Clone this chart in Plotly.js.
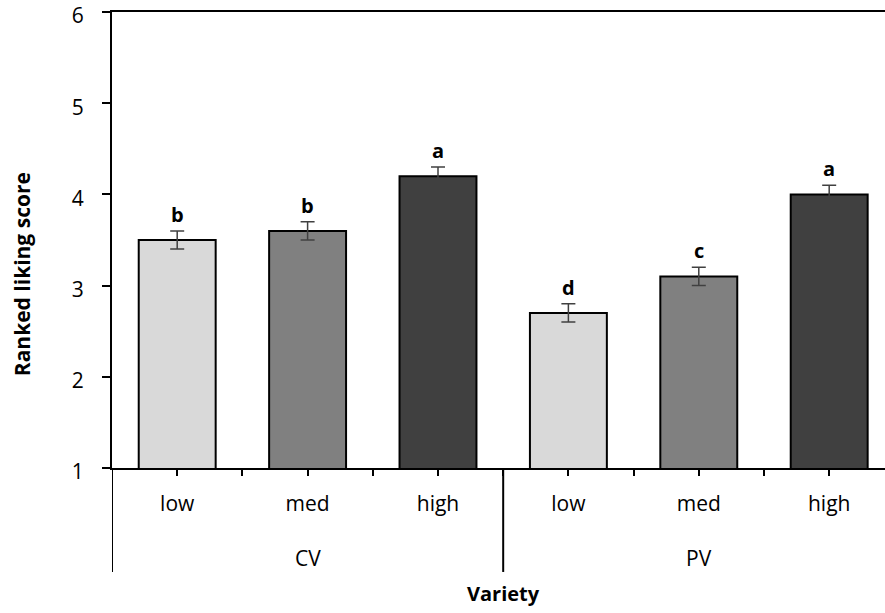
<!DOCTYPE html>
<html><head><meta charset="utf-8">
<script src="https://cdn.plot.ly/plotly-3.0.1.min.js"></script>
<style>html,body{margin:0;padding:0;background:#fff}#chart{width:885px;height:613px}</style>
</head><body><div id="chart"></div>
<script>
const groups = ['CV', 'CV', 'CV', 'PV', 'PV', 'PV'];
const levels = ['low', 'med', 'high', 'low', 'med', 'high'];
const scores = [3.5, 3.6, 4.2, 2.7, 3.1, 4.0];
const errors = [0.1, 0.1, 0.1, 0.1, 0.1, 0.1];
const letters = ['b', 'b', 'a', 'd', 'c', 'a'];
const levelColors = {low: '#d9d9d9', med: '#808080', high: '#404040'};
const groupNames = ['CV', 'PV'];
const yTicks = [1, 2, 3, 4, 5, 6];
const xTitle = 'Variety';
const yTitle = 'Ranked liking score';

const FONT = '"Open Sans", sans-serif';
const xs = levels.map((_, i) => i);

const trace = {
  type: 'bar', x: xs, y: scores, width: 0.59,
  marker: {color: levels.map(l => levelColors[l]), line: {color: '#000', width: 2}},
  error_y: {type: 'data', array: errors, visible: true, color: '#404040', thickness: 1.5, width: 7},
  hoverinfo: 'skip'
};

const tickvals = [], ticktext = [];
xs.forEach(i => { tickvals.push(i); ticktext.push(levels[i]); if (i < xs.length - 1) { tickvals.push(i + 0.5); ticktext.push(''); } });

const annotations = xs.map(i => ({
  x: i, y: scores[i] + errors[i], xref: 'x', yref: 'y', text: '<b>' + letters[i] + '</b>',
  showarrow: false, yanchor: 'bottom', yshift: 1, font: {family: FONT, size: 20, color: '#000'}
}));
groupNames.forEach((g) => {
  const idx = groups.map((gg, i) => gg === g ? i : -1).filter(i => i >= 0);
  const mid = (idx[0] + idx[idx.length - 1]) / 2;
  annotations.push({x: mid, y: 0, xref: 'x', yref: 'paper', yanchor: 'middle', yshift: -90, text: g,
    showarrow: false, font: {family: FONT, size: 21, color: '#000'}});
});
// axis titles
annotations.push({x: (xs.length - 1) / 2, y: 0, xref: 'x', yref: 'paper', yanchor: 'middle', yshift: -125,
  text: '<b>' + xTitle + '</b>', showarrow: false, font: {family: FONT, size: 20, color: '#000'}});
annotations.push({x: 0, y: 0.425, xref: 'paper', yref: 'paper', xanchor: 'center', yanchor: 'middle', xshift: -90,
  textangle: -90, text: '<b>' + yTitle + '</b>', showarrow: false, font: {family: FONT, size: 21, color: '#000'}});

const shapes = [
  {type: 'line', xref: 'x', yref: 'paper', x0: -0.5, x1: -0.5, y0: 0, y1: -0.228, line: {color: '#000', width: 2}},
  {type: 'line', xref: 'x', yref: 'paper', x0: 2.5, x1: 2.5, y0: 0, y1: -0.228, line: {color: '#000', width: 2}}
];

const layout = {
  width: 885, height: 613,
  margin: {l: 112, r: 0, t: 12, b: 145},
  paper_bgcolor: '#fff', plot_bgcolor: '#fff',
  showlegend: false,
  font: {family: FONT, color: '#000'},
  xaxis: {
    range: [-0.5, 5.428], tickvals: tickvals, ticktext: ticktext,
    ticks: 'outside', ticklen: 6, tickwidth: 2, tickcolor: '#000',
    showline: true, linecolor: '#000', linewidth: 2, mirror: true,
    showgrid: false, zeroline: false, ticklabelstandoff: 10,
    tickfont: {family: FONT, size: 21, color: '#000'}
  },
  yaxis: {
    range: [1, 6], tickvals: yTicks, ticktext: yTicks.map(String),
    ticks: 'outside', ticklen: 8, tickwidth: 2, tickcolor: '#000',
    showline: true, linecolor: '#000', linewidth: 2, showgrid: false, zeroline: false,
    ticklabelstandoff: 14, ticklabeloverflow: 'allow', ticklabelshift: 4,
    tickfont: {family: FONT, size: 21, color: '#000'}
  },
  annotations: annotations,
  shapes: shapes
};

Plotly.newPlot('chart', [trace], layout, {displayModeBar: false, staticPlot: true});
</script></body></html>
